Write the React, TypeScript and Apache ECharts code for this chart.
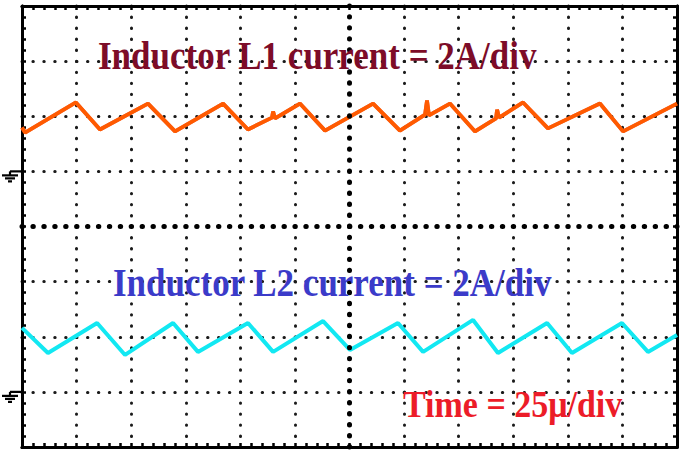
import React, { useEffect, useRef } from "react";
import * as echarts from "echarts";

// Time axis: 12 divisions x 25 µs/div
const TIME_PER_DIV_US = 25;
const TIME_DIVS = 12;
const VERT_DIVS = 8;
const AMPS_PER_DIV = 2;
const CH1_ZERO_DIV = 5; // ground marker of channel 1 (divisions from bottom)
const CH2_ZERO_DIV = 1; // ground marker of channel 2

// Inductor L1 current (A) vs time (µs)
const CH1_T = [0, 1.4, 24.7, 35.7, 57.7, 70.1, 92.1, 103.5, 114.5, 115.0, 115.9, 127.3, 138.8, 160.8, 173.1, 184.6, 185.5, 186.4, 196.0, 207.5, 217.1, 217.6, 218.5, 229.5, 240.9, 264.7, 275.3, 300];
const CH1_A = [1.59, 1.41, 2.5, 1.52, 2.46, 1.45, 2.46, 1.52, 1.95, 2.17, 1.92, 2.46, 1.48, 2.46, 1.48, 2.06, 2.57, 2.03, 2.46, 1.45, 1.92, 2.24, 1.95, 2.5, 1.56, 2.46, 1.45, 2.46];

// Inductor L2 current (A) vs time (µs)
const CH2_T = [0, 11.9, 34.4, 47.2, 69.2, 80.6, 103.5, 115.0, 137.9, 150.2, 172.2, 183.7, 206.6, 218.0, 240.5, 251.9, 274.8, 286.7, 300];
const CH2_A = [2.32, 1.41, 2.5, 1.34, 2.5, 1.45, 2.5, 1.45, 2.57, 1.52, 2.5, 1.45, 2.61, 1.41, 2.5, 1.41, 2.5, 1.45, 2.06];

const TITLE_L1 = "Inductor L1 current = 2A/div";
const TITLE_L2 = "Inductor L2 current = 2A/div";
const TITLE_TIME = "Time = 25μ/div";

const W = 685;
const H = 455;
const GRID = { left: 22, top: 6, right: 8, bottom: 8 };

export default function App() {
  const ref = useRef<HTMLDivElement>(null);
  useEffect(() => {
    if (!ref.current) return;
    const chart = echarts.init(ref.current, null, { renderer: "svg" });
    const plotW = W - GRID.left - GRID.right;
    const plotH = H - GRID.top - GRID.bottom;
    const xMinor = plotW / TIME_DIVS / 5;
    const yMinor = plotH / VERT_DIVS / 5;
    const xMax = TIME_PER_DIV_US * TIME_DIVS;

    const borderAxis = {
      axisLine: { show: true, onZero: false, lineStyle: { color: "#000", width: 3 } },
      axisTick: { show: true, inside: true, length: 4, lineStyle: { color: "#000", width: 2.5 } },
      minorTick: { show: true, splitNumber: 5, length: 4, lineStyle: { color: "#000", width: 2.5 } },
      axisLabel: { show: false },
    };
    const dotted = (gap: number) => ({
      show: true,
      lineStyle: { color: "#1a1a1a", width: 3, type: [0.4, gap - 0.4], cap: "round" },
    });

    const ch1 = CH1_T.map((t, i) => [t, CH1_ZERO_DIV + CH1_A[i] / AMPS_PER_DIV]);
    const ch2 = CH2_T.map((t, i) => [t, CH2_ZERO_DIV + CH2_A[i] / AMPS_PER_DIV]);

    chart.setOption({
      animation: false,
      backgroundColor: "#fff",
      grid: { ...GRID, containLabel: false },
      xAxis: [
        { type: "value", min: 0, max: xMax, interval: TIME_PER_DIV_US, position: "bottom", ...borderAxis, splitLine: dotted(yMinor) },
        { type: "value", min: 0, max: xMax, interval: TIME_PER_DIV_US, position: "top", ...borderAxis, splitLine: { show: false } },
      ],
      yAxis: [
        { type: "value", min: 0, max: VERT_DIVS, interval: 1, position: "left", ...borderAxis, splitLine: dotted(xMinor) },
        { type: "value", min: 0, max: VERT_DIVS, interval: 1, position: "right", ...borderAxis, splitLine: { show: false } },
      ],
      series: [
        {
          type: "line",
          data: [],
          z: 1,
          silent: true,
          markLine: {
            silent: true,
            symbol: "none",
            label: { show: false },
            data: [
              { xAxis: xMax / 2, lineStyle: { color: "#000", width: 5, type: [0.4, yMinor - 0.4], cap: "round" } },
              { yAxis: VERT_DIVS / 2, lineStyle: { color: "#000", width: 5, type: [0.4, xMinor - 0.4], cap: "round" } },
            ],
          },
        },
        {
          name: "L1",
          type: "line",
          data: ch1,
          z: 3,
          symbol: "none",
          lineStyle: { color: "#ff5a00", width: 3.8, shadowColor: "rgba(220,20,0,0.7)", shadowBlur: 1.5 },
        },
        {
          name: "L2",
          type: "line",
          data: ch2,
          z: 3,
          symbol: "none",
          lineStyle: { color: "#12e8f2", width: 4 },
        },
      ],
    });

    const ground = (zeroDiv: number) => {
      const [gx, gy] = chart.convertToPixel({ gridIndex: 0 }, [0, zeroDiv]) as number[];
      const st = { stroke: "#000", lineWidth: 2.2 };
      return {
        type: "group",
        x: gx,
        y: gy,
        children: [
          { type: "line", shape: { x1: -12, y1: 0, x2: 0, y2: 0 }, style: st },
          { type: "line", shape: { x1: -12, y1: 0, x2: -12, y2: 4 }, style: st },
          { type: "line", shape: { x1: -20, y1: 4, x2: -4, y2: 4 }, style: st },
          { type: "line", shape: { x1: -17, y1: 7, x2: -7, y2: 7 }, style: st },
          { type: "line", shape: { x1: -14, y1: 10, x2: -10, y2: 10 }, style: st },
        ],
      };
    };
    const label = (text: string, x: number, y: number, size: number, color: string) => ({
      type: "text",
      x,
      y,
      scaleY: 1.12,
      z: 10,
      style: {
        text,
        fill: color,
        font: `bold ${size}px "Liberation Serif", "Times New Roman", serif`,
        align: "left",
        verticalAlign: "middle",
      },
    });

    chart.setOption({
      graphic: [
        ground(CH1_ZERO_DIV),
        ground(CH2_ZERO_DIV),
        label(TITLE_L1, 98, 56, 35, "#7d0c28"),
        label(TITLE_L2, 113, 283, 35, "#3b3bc9"),
        label(TITLE_TIME, 403, 404, 34, "#ec1c28"),
      ],
    });

    return () => chart.dispose();
  }, []);
  return (
    <div
      ref={ref}
      style={{ position: "fixed", left: 0, top: 0, width: W, height: H, background: "#fff" }}
    />
  );
}
